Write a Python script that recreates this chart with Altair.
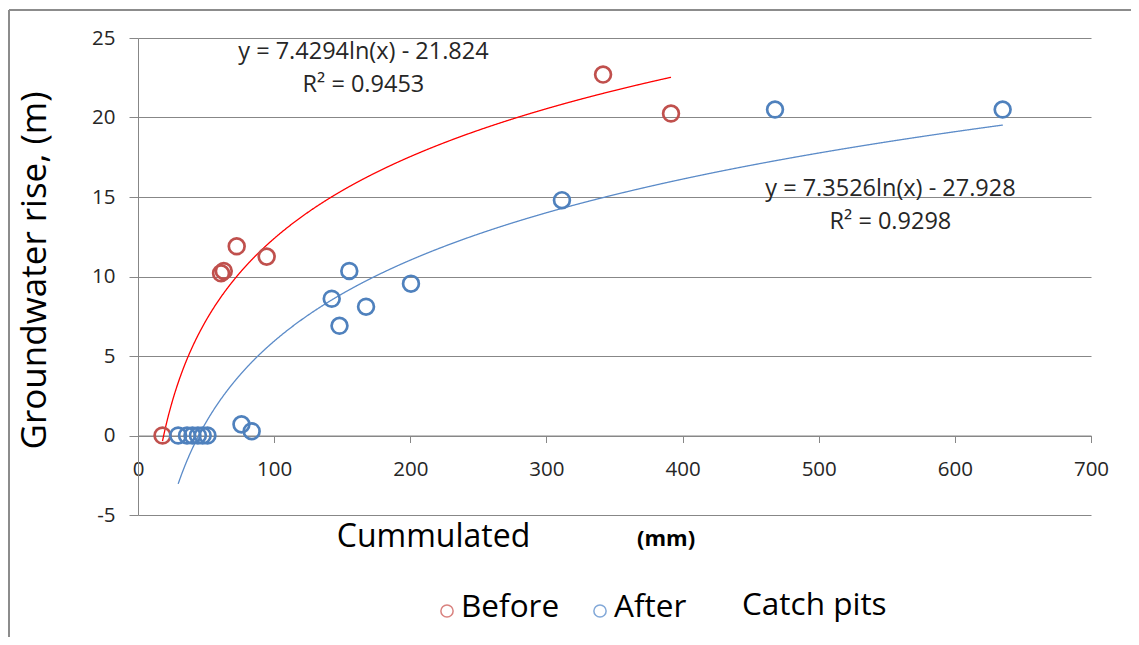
import altair as alt
import pandas as pd

# ---- data ----
before_x = [18, 61, 63, 72.5, 94.5, 341.6, 391.5]
before_y = [0, 10.2, 10.35, 11.9, 11.25, 22.7, 20.25]

after_x = [29.5, 36, 40, 44, 47.5, 51, 76, 83.5, 142.3, 148, 155.2, 167.5, 200.5, 311.4, 467.9, 635.1]
after_y = [0, 0, 0, 0, 0, 0, 0.7, 0.27, 8.6, 6.9, 10.35, 8.1, 9.55, 14.8, 20.5, 20.5]

series_names = ["Before", "After"]
marker_colors = ["#C0504D", "#4F81BD"]
trend_colors = ["#FF0000", "#5B8BC8"]
legend_colors = ["#D9827F", "#82A8D8"]

# logarithmic trendlines printed on the chart: y = a*ln(x) + b
trend_slope = [7.4294, 7.3526]
trend_intercept = [-21.824, -27.928]

eq_text = ["y = 7.4294ln(x) - 21.824", "R² = 0.9453", "y = 7.3526ln(x) - 27.928", "R² = 0.9298"]
eq_x = [165.6, 165.6, 552.7, 552.7]
eq_y = [24.15, 22.05, 15.5, 13.45]

x_ticks = [0, 100, 200, 300, 400, 500, 600, 700]
y_ticks = [-5, 0, 5, 10, 15, 20, 25]

FONT = "Open Sans"
GRID = "#878787"
TXT = "#262626"

pts = pd.DataFrame({
    "x": before_x + after_x,
    "y": before_y + after_y,
    "series": ["Before"] * len(before_x) + ["After"] * len(after_x),
})

X = alt.X("x:Q",
          scale=alt.Scale(domain=[0, 700], nice=False, zero=False),
          axis=alt.Axis(values=x_ticks, offset=-79.5, grid=False, tickSize=7,
                        labelPadding=17, labelFontSize=20.5, labelFont=FONT, labelColor=TXT,
                        labelFlush=False, domainColor=GRID, tickColor=GRID,
                        title="Cummulated", titleFont=FONT, titleFontSize=32,
                        titleFontWeight="normal", titleColor="black",
                        titleX=295, titleY=101, titleAlign="center", titleBaseline="middle"))
Y = alt.Y("y:Q",
          scale=alt.Scale(domain=[-5, 25], nice=False, zero=False),
          axis=alt.Axis(values=y_ticks, grid=True, gridColor=GRID, gridOpacity=1,
                        tickSize=9, labelPadding=14, labelFontSize=20.5, labelFont=FONT,
                        labelColor=TXT, labelFlush=False, domainColor=GRID, tickColor=GRID,
                        labelExpr="datum.value + ''",
                        title="Groundwater rise, (m)", titleFont=FONT, titleFontSize=35,
                        titleFontWeight="normal", titleColor="black",
                        titleX=-104, titleY=232, titleAngle=270,
                        titleAlign="center", titleBaseline="middle"))

color_scale = alt.Scale(domain=series_names, range=marker_colors)

points = alt.Chart(pts).mark_point(shape="circle", filled=False, size=250, strokeWidth=2.7,
                                   opacity=1).encode(
    x=X, y=Y, color=alt.Color("series:N", scale=color_scale, legend=None))

xs_all = [before_x, after_x]
curves = []
for i in range(2):
    lo, hi = min(xs_all[i]), max(xs_all[i])
    c = (alt.Chart(alt.sequence(lo, hi + 0.25, 0.25, as_="x"))
         .transform_calculate(y=f"{trend_slope[i]}*log(datum.x) + ({trend_intercept[i]})")
         .mark_line(color=trend_colors[i], strokeWidth=1.3)
         .encode(x=X, y=Y))
    curves.append(c)

eq_df = pd.DataFrame({"x": eq_x, "y": eq_y, "t": eq_text})
eqs = alt.Chart(eq_df).mark_text(font=FONT, fontSize=23.5, color=TXT, align="center",
                                 baseline="middle").encode(x=X, y=Y, text="t:N")

one = pd.DataFrame({"a": [0]})
unit_lbl = alt.Chart(one).mark_text(text="(mm)", font=FONT, fontSize=22, fontWeight="bold",
                                    color="black", align="left", baseline="middle").encode(
    x=alt.value(499), y=alt.value(501))

leg_pt1 = alt.Chart(one).mark_point(shape="circle", filled=False, size=150, strokeWidth=1.5,
                                    color=legend_colors[0], opacity=1).encode(
    x=alt.value(309), y=alt.value(573))
leg_pt2 = alt.Chart(one).mark_point(shape="circle", filled=False, size=150, strokeWidth=1.5,
                                    color=legend_colors[1], opacity=1).encode(
    x=alt.value(462), y=alt.value(573))
leg_t1 = alt.Chart(one).mark_text(text=series_names[0], font=FONT, fontSize=31.5, color="black",
                                  align="left", baseline="middle").encode(
    x=alt.value(323), y=alt.value(570))
leg_t2 = alt.Chart(one).mark_text(text=series_names[1], font=FONT, fontSize=31.5, color="black",
                                  align="left", baseline="middle").encode(
    x=alt.value(476), y=alt.value(570))
leg_t3 = alt.Chart(one).mark_text(text="Catch pits", font=FONT, fontSize=31.5, color="black",
                                  align="left", baseline="middle").encode(
    x=alt.value(604), y=alt.value(568))

border_top = alt.Chart(one).mark_rule(color="#8C8C8C", strokeWidth=2).encode(
    x=alt.value(-129), x2=alt.value(1000), y=alt.value(-28))
border_left = alt.Chart(one).mark_rule(color="#8C8C8C", strokeWidth=2).encode(
    x=alt.value(-129), y=alt.value(-28), y2=alt.value(620))

chart = alt.layer(
    border_top, border_left, *curves, points, eqs, unit_lbl,
    leg_pt1, leg_pt2, leg_t1, leg_t2, leg_t3
).properties(
    width=953, height=477,
    autosize=alt.AutoSizeParams(type="none"),
    padding={"left": 130, "top": 30, "right": 40, "bottom": 122},
    background="white",
).configure(font=FONT).configure_view(stroke="transparent")

chart.save("out.html", embed_options={"renderer": "svg", "actions": False})
